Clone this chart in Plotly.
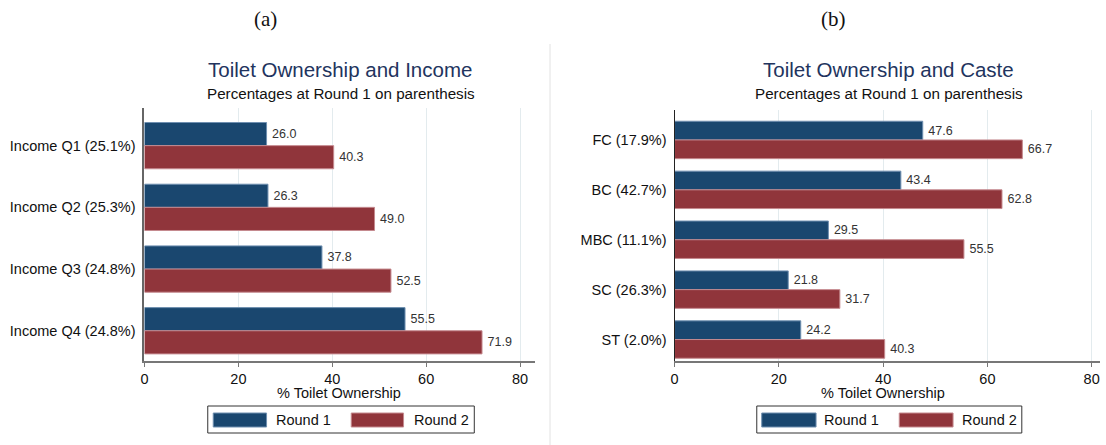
import plotly.graph_objects as go

# ---- data ----
income_cats = ["Income Q1 (25.1%)", "Income Q2 (25.3%)", "Income Q3 (24.8%)", "Income Q4 (24.8%)"]
income_r1 = [26.0, 26.3, 37.8, 55.5]
income_r2 = [40.3, 49.0, 52.5, 71.9]

caste_cats = ["FC (17.9%)", "BC (42.7%)", "MBC (11.1%)", "SC (26.3%)", "ST (2.0%)"]
caste_r1 = [47.6, 43.4, 29.5, 21.8, 24.2]
caste_r2 = [66.7, 62.8, 55.5, 31.7, 40.3]

series_names = ["Round 1", "Round 2"]
x_ticks = [0, 20, 40, 60, 80]
x_title = "% Toilet Ownership"

C1 = "#1a476f"
C2 = "#90353b"
L1 = "#6f8fb0"
L2 = "#c58a8f"
FONT = "Liberation Sans, Arial, sans-serif"
W, H = 1106, 445

fig = go.Figure()

def add_bars(cats, r1, r2, xa, ya):
    for name, vals, col, lc in [(series_names[0], r1, C1, L1), (series_names[1], r2, C2, L2)]:
        fig.add_trace(go.Bar(
            y=cats, x=vals, orientation="h", name=name,
            marker=dict(color=col, line=dict(color=lc, width=1)),
            texttemplate="\u2009%{x:.1f}", textposition="outside",
            textfont=dict(size=12.5, color="#333333", family=FONT),
            cliponaxis=False, xaxis=xa, yaxis=ya, showlegend=False,
        ))

add_bars(income_cats, income_r1, income_r2, "x", "y")
add_bars(caste_cats, caste_r1, caste_r2, "x2", "y2")

def px_x(p):
    return p / W

def px_y(p):
    return 1 - p / H

xcommon = dict(
    tickvals=x_ticks, showgrid=True, gridcolor="#e3ebee", gridwidth=1,
    zeroline=False, showline=True, linecolor="#777777", linewidth=1.5,
    ticks="outside", ticklen=4, tickcolor="#777777",
    tickfont=dict(size=14.5, color="#111111", family=FONT),
    fixedrange=True,
)
ycommon = dict(
    type="category", showgrid=False, zeroline=False, showline=True,
    ticks="",
    tickfont=dict(size=14.5, color="#111111", family=FONT),
    ticklabelstandoff=4,
)

fig.update_layout(
    width=W, height=H, margin=dict(l=0, r=0, t=0, b=0),
    paper_bgcolor="white", plot_bgcolor="white",
    barmode="group", bargap=0.25, bargroupgap=0,
    xaxis=dict(domain=[px_x(141), px_x(533)], range=[0, 83.2], anchor="y", **xcommon),
    yaxis=dict(domain=[px_y(361), px_y(108)], range=[3.49, -0.61], anchor="x",
               linecolor="#666666", linewidth=2, **ycommon),
    xaxis2=dict(domain=[px_x(673), px_x(1100)], range=[0, 81.6], anchor="y2", **xcommon),
    yaxis2=dict(domain=[px_y(361), px_y(110)], range=[4.43, -0.6], anchor="x2",
                linecolor="#222222", linewidth=1.2, **ycommon),
    font=dict(family=FONT),
)

anns = []
def ann(text, x, y, size, color="#111111", family=FONT):
    anns.append(dict(text=text, x=px_x(x), y=px_y(y), xref="paper", yref="paper",
                     showarrow=False, xanchor="center", yanchor="middle",
                     font=dict(size=size, color=color, family=family)))

ann("(a)", 262, 19, 21, "#111111", "Liberation Serif, Times New Roman, serif")
ann("(b)", 833, 19, 21, "#111111", "Liberation Serif, Times New Roman, serif")
ann("Toilet Ownership and Income", 337, 70, 20.5, "#22345e")
ann("Percentages at Round 1 on parenthesis", 338, 93, 15.2)
ann("Toilet Ownership and Caste", 888, 70, 20.5, "#22345e")
ann("Percentages at Round 1 on parenthesis", 888, 93, 15.2)
ann(x_title, 336, 393, 14.5)
ann(x_title, 882, 393, 14.5)

shapes = [dict(type="line", xref="paper", yref="paper", x0=px_x(548), x1=px_x(548),
               y0=px_y(44), y1=0, line=dict(color="#e2e2e2", width=1))]

def legend(box_x0, box_x1, sw1, sw2, t1, t2):
    shapes.append(dict(type="rect", xref="paper", yref="paper",
                       x0=px_x(box_x0), x1=px_x(box_x1), y0=px_y(433), y1=px_y(406),
                       line=dict(color="#333333", width=1), fillcolor="white"))
    for (a, b), col, lc in [(sw1, C1, L1), (sw2, C2, L2)]:
        shapes.append(dict(type="rect", xref="paper", yref="paper",
                           x0=px_x(a), x1=px_x(b), y0=px_y(427), y1=px_y(413),
                           line=dict(color=lc, width=1), fillcolor=col))
    for tx, name in [(t1, series_names[0]), (t2, series_names[1])]:
        anns.append(dict(text=name, x=px_x(tx), y=px_y(420), xref="paper", yref="paper",
                         showarrow=False, xanchor="left", yanchor="middle",
                         font=dict(size=14.5, color="#111111", family=FONT)))

legend(204.5, 472, (210, 263.5), (348.5, 401), 271, 409)
legend(755.5, 1021.5, (760.5, 815), (898.5, 952.5), 821, 959)

fig.update_layout(annotations=anns, shapes=shapes)
fig.write_html("out.html")
